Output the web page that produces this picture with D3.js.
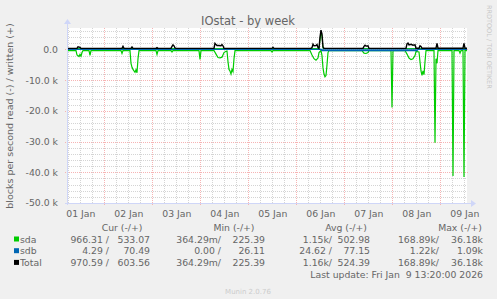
<!DOCTYPE html>
<html>
<head>
<meta charset="utf-8">
<script src="https://cdn.jsdelivr.net/npm/d3@7"></script>
<style>
  body { margin: 0; background: #F0F0F0; }
  svg { display: block; font-family: "DejaVu Sans", sans-serif; }
</style>
</head>
<body>
<svg id="svg" width="497" height="299"></svg>
<script>
// hours after the start of the graph (Thu 01 Jan 2026 05:20) and values in blocks/s
var sdaReadHours = [0, 4.5, 5, 6, 6.5, 7, 7.5, 8, 11, 11.5, 12, 27, 27.5, 28, 31.5, 32, 32.5, 33, 33.5, 34, 34.5, 35, 35.5, 36,
    44.5, 45, 45.5, 52, 52.5, 53, 66, 66.5, 67, 73.5, 74.5, 75.5, 76.5, 77.5, 78.5, 79.5, 80, 80.5, 81, 81.5, 82, 82.5, 83, 83.5, 84,
    102, 102.5, 103, 121.5, 122.5, 123.5, 124.5, 125.5, 126, 127, 127.5, 128, 128.5, 129, 129.5, 130, 130.5, 131,
    147.5, 148.5, 149.5, 150.5, 151, 162, 162.5, 163, 169, 170, 171, 172, 173, 174, 174.5, 176, 176.5, 177, 177.5, 178, 178.5, 179, 179.5,
    183.5, 184, 184.5, 185, 185.5, 192.5, 193, 193.5, 196, 196.5, 197, 198, 198.5, 199, 200];
var sdaReadVals = [-350, -350, -1800, -2300, -1600, -2200, -1000, -350, -350, -1900, -350, -350, -1300, -350, -350, -4500, -5800, -6500, -7000, -7400, -6600, -7600, -3000, -350,
    -350, -1600, -350, -350, -800, -350, -350, -3200, -350, -350, -1500, -2600, -2700, -2500, -1000, -600, -500, -4000, -6500, -7000, -8000, -6500, -7200, -3000, -350,
    -350, -800, -350, -350, -1800, -3000, -3500, -2800, -1000, -350, -2000, -6000, -8000, -8900, -8500, -5000, -1000, -350,
    -350, -1200, -1300, -1000, -350, -350, -18900, -350, -350, -1500, -2800, -3300, -3000, -2000, -600, -800, -4000, -7000, -8400, -7000, -8200, -4000, -350,
    -350, -30400, -3000, -4500, -350, -350, -41200, -350, -350, -1200, -350, -350, -41500, -350, -350];

var sdaWriteHours = [0, 126, 126.5, 127, 127.5, 128, 200];
var sdaWriteVals = [300, 300, 3000, 5600, 4200, 300, 300];

var sdbReadHours = [0, 127, 127.5, 175, 175.5, 200];
var sdbReadVals = [0, 0, -350, -350, 0, 0];

var sdbWriteHours = [0, 200];
var sdbWriteVals = [70, 70];

var totalHours = [0, 5, 5.5, 6.5, 7, 27.5, 28, 28.5, 32, 32.5, 33, 44.5, 45, 45.5, 52, 52.5, 53, 53.5, 54, 54.5,
    73.5, 74, 74.5, 75, 76, 77, 77.5, 78, 78.5, 102.5, 103, 103.5, 122, 122.5, 123, 123.5, 124.5, 125, 125.5, 126,
    126.5, 127, 127.5, 128, 128.5, 148, 148.5, 149, 149.5, 150.5, 151,
    169.5, 170, 170.5, 171, 172, 173, 174, 174.5, 176, 176.5, 177, 177.5, 184.5, 185, 185.5, 198, 198.5, 199, 200];
var totalVals = [350, 350, 900, 700, 350, 350, 1000, 350, 350, 800, 350, 350, 600, 350, 350, 1000, 1500, 1200, 500, 350,
    400, 2000, 1600, 1300, 1300, 1200, 1600, 1200, 400, 350, 700, 350, 350, 600, 1700, 1200, 1300, 1600, 600, 350,
    4000, 6300, 5000, 800, 350, 350, 1000, 1400, 1100, 1200, 350,
    400, 1800, 2100, 1500, 1700, 1400, 1500, 400, 400, 1200, 1000, 400, 400, 2000, 400, 400, 2000, 400, 400];

var dayLabels = ["01 Jan", "02 Jan", "03 Jan", "04 Jan", "05 Jan", "06 Jan", "07 Jan", "08 Jan", "09 Jan"];
var yTicks = [0, -10000, -20000, -30000, -40000, -50000];

var legendNames = ["sda", "sdb", "Total"];
var legendColors = ["#00CC00", "#0066B3", "#000000"];
var legendHeaders = ["Cur (-/+)", "Min (-/+)", "Avg (-/+)", "Max (-/+)"];
var curVals = [["966.31 /", "533.07"], ["4.29 /", "70.49"], ["970.59 /", "603.56"]];
var minVals = [["364.29m/", "225.39"], ["0.00 /", "26.11"], ["364.29m/", "225.39"]];
var avgVals = [["1.15k/", "502.98"], ["24.62 /", "77.15"], ["1.16k/", "524.39"]];
var maxVals = [["168.89k/", "36.18k"], ["1.22k/", "1.09k"], ["168.89k/", "36.18k"]];

var margin = {left: 67, top: 28, right: 30, bottom: 96};
var plot_width = 400, plot_height = 175;
var start = Date.UTC(2026, 0, 1, 5, 20);
var end = Date.UTC(2026, 0, 9, 13, 20);

var svg = d3.select("#svg");
svg.append("rect").attr("width", 497).attr("height", 299).attr("fill", "#F0F0F0");

var xScale = d3.scaleUtc().domain([start, end]).range([margin.left, margin.left + plot_width]);
var yScale = d3.scaleLinear().domain([-50000, 7000]).range([margin.top + plot_height, margin.top]);

function toDate(h) { return new Date(start + h * 3600000); }

svg.append("rect")
    .attr("x", margin.left).attr("y", margin.top)
    .attr("width", plot_width).attr("height", plot_height)
    .attr("fill", "#FFFFFF");

var grid = svg.append("g").attr("shape-rendering", "crispEdges");

// minor grid
var hourTicks = d3.utcHour.every(6).range(new Date(start), new Date(end));
grid.selectAll(".vmin").data(hourTicks).enter().append("line")
    .attr("x1", d => Math.round(xScale(d)) + 0.5).attr("x2", d => Math.round(xScale(d)) + 0.5)
    .attr("y1", margin.top).attr("y2", margin.top + plot_height)
    .attr("stroke", "#D4D4D4").attr("stroke-dasharray", "1,1");
grid.selectAll(".hmin").data(d3.range(-50000, 7000, 2000)).enter().append("line")
    .attr("x1", margin.left).attr("x2", margin.left + plot_width)
    .attr("y1", d => Math.round(yScale(d)) + 0.5).attr("y2", d => Math.round(yScale(d)) + 0.5)
    .attr("stroke", "#D4D4D4").attr("stroke-dasharray", "1,1");

// major grid
var dayTicks = d3.utcDay.range(new Date(start), new Date(end));
grid.selectAll(".vmaj").data(dayTicks).enter().append("line")
    .attr("x1", d => Math.round(xScale(d)) + 0.5).attr("x2", d => Math.round(xScale(d)) + 0.5)
    .attr("y1", margin.top).attr("y2", margin.top + plot_height + 2)
    .attr("stroke", "#F6B4B4").attr("stroke-dasharray", "1,1");
grid.selectAll(".hmaj").data(yTicks).enter().append("line")
    .attr("x1", margin.left - 2).attr("x2", margin.left + plot_width + 2)
    .attr("y1", d => Math.round(yScale(d)) + 0.5).attr("y2", d => Math.round(yScale(d)) + 0.5)
    .attr("stroke", "#F6B4B4").attr("stroke-dasharray", "1,1");

// y tick labels
svg.append("g")
    .attr("transform", `translate(${margin.left - 6}, 0)`)
    .call(d3.axisLeft(yScale).tickValues(yTicks).tickSize(0)
        .tickFormat(d => d == 0 ? "0.0" : (d / 1000).toFixed(1) + " k"))
    .call(g => g.select(".domain").remove())
    .selectAll("text")
    .attr("fill", "#666666").attr("font-size", 9.3).attr("font-family", "DejaVu Sans");

// x tick labels at noon
var noonTicks = dayLabels.map((d, i) => new Date(Date.UTC(2026, 0, i + 1, 12)));
svg.append("g")
    .attr("transform", `translate(0, ${margin.top + plot_height + 4})`)
    .call(d3.axisBottom(xScale).tickValues(noonTicks).tickSize(0)
        .tickFormat((d, i) => dayLabels[i]))
    .call(g => g.select(".domain").remove())
    .selectAll("text")
    .attr("fill", "#666666").attr("font-size", 9.3).attr("font-family", "DejaVu Sans");

// data lines
var clip = svg.append("defs").append("clipPath").attr("id", "clip")
    .append("rect").attr("x", margin.left).attr("y", margin.top)
    .attr("width", plot_width).attr("height", plot_height);
var container = svg.append("g").attr("clip-path", "url(#clip)");

function drawLine(hours, vals, color, w) {
    var pts = hours.map((h, i) => [toDate(h), vals[i]]);
    container.append("path")
        .datum(pts)
        .attr("fill", "none")
        .attr("stroke", color)
        .attr("stroke-width", w)
        .attr("d", d3.line().x(d => xScale(d[0])).y(d => yScale(d[1])));
}
drawLine(sdaWriteHours, sdaWriteVals, "#00CC00", 1);
drawLine(sdaReadHours, sdaReadVals, "#00CC00", 1.2);
drawLine(sdbWriteHours, sdbWriteVals, "#0066B3", 1);
drawLine(sdbReadHours, sdbReadVals, "#0066B3", 1.2);
drawLine(totalHours, totalVals, "#000000", 1.4);

// axes with arrows
var axisColor = "#CFD6F8";
svg.append("line").attr("x1", margin.left - 2).attr("x2", margin.left + plot_width + 4)
    .attr("y1", margin.top + plot_height + 0.5).attr("y2", margin.top + plot_height + 0.5)
    .attr("stroke", axisColor);
svg.append("line").attr("x1", margin.left + 0.5).attr("x2", margin.left + 0.5)
    .attr("y1", margin.top + plot_height + 2).attr("y2", margin.top - 4)
    .attr("stroke", axisColor);
svg.append("path")
    .attr("d", `M${margin.left + plot_width + 4},${margin.top + plot_height - 3} l5,3.5 l-5,3.5 z`)
    .attr("fill", axisColor);
svg.append("path")
    .attr("d", `M${margin.left - 3},${margin.top - 4} l3.5,-5 l3.5,5 z`)
    .attr("fill", axisColor);

// titles
svg.append("text").attr("x", 248).attr("y", 25).attr("text-anchor", "middle")
    .attr("font-size", 11.5).attr("fill", "#666666").text("IOstat - by week");
svg.append("text").attr("transform", "translate(13, 116) rotate(-90)")
    .attr("text-anchor", "middle").attr("font-size", 9.5).attr("fill", "#666666")
    .text("blocks per second read (-) / written (+)");
svg.append("text").attr("transform", "translate(487, 5) rotate(90)")
    .attr("font-size", 6.5).attr("fill", "#C8C8C8")
    .text("RRDTOOL / TOBI OETIKER");

// legend
var legend = svg.append("g").attr("font-size", 9.3).attr("fill", "#666666");
var headerX = [122, 234, 346, 460];
legend.selectAll(".hdr").data(legendHeaders).enter().append("text")
    .attr("x", (d, i) => headerX[i]).attr("y", 231).attr("text-anchor", "middle").text(d => d);

var colEnds = [[109, 150], [221, 265], [332, 370], [439, 483]];
var columns = [curVals, minVals, avgVals, maxVals];
legendNames.forEach(function(name, r) {
    var y = 242.5 + r * 11.7;
    legend.append("rect").attr("x", 14).attr("y", y - 6).attr("width", 5).attr("height", 5)
        .attr("fill", legendColors[r]);
    legend.append("text").attr("x", 20).attr("y", y).text(name);
    columns.forEach(function(col, c) {
        legend.append("text").attr("x", colEnds[c][0]).attr("y", y).attr("text-anchor", "end")
            .attr("xml:space", "preserve").text(col[r][0]);
        legend.append("text").attr("x", colEnds[c][1]).attr("y", y).attr("text-anchor", "end").text(col[r][1]);
    });
});
legend.append("text").attr("x", 483).attr("y", 277.5).attr("text-anchor", "end")
    .attr("xml:space", "preserve").text("Last update: Fri Jan  9 13:20:00 2026");
svg.append("text").attr("x", 248).attr("y", 294).attr("text-anchor", "middle")
    .attr("font-size", 7).attr("fill", "#CCCCCC").text("Munin 2.0.76");
</script>
</body>
</html>
